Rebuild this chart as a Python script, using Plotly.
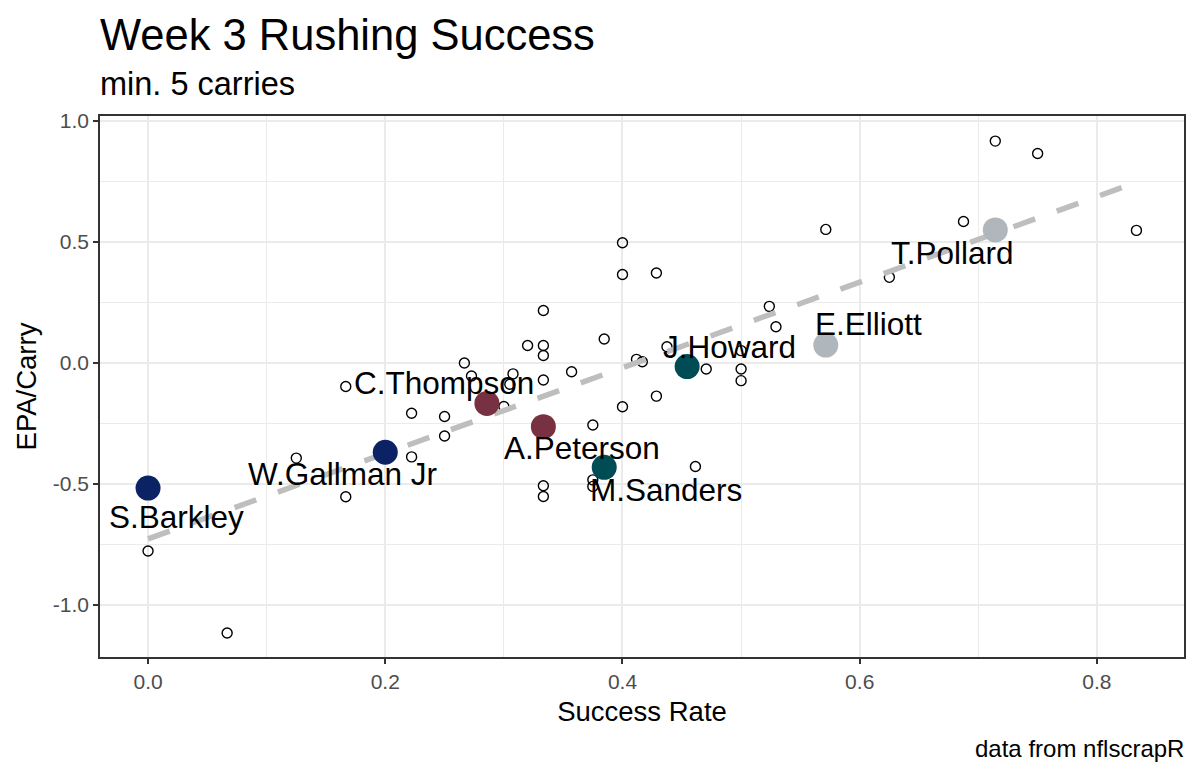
import numpy as np
import plotly.graph_objects as go

# ---- data ----
other_success = [0.0, 0.0667, 0.125, 0.1667, 0.1667, 0.2222, 0.2222, 0.25, 0.25, 0.2667,
                 0.2727, 0.30, 0.3077, 0.305, 0.32, 0.3333, 0.3333, 0.3333, 0.3333, 0.3333,
                 0.3333, 0.3571, 0.375, 0.375, 0.375, 0.3846, 0.40, 0.40, 0.40, 0.4118,
                 0.4167, 0.4286, 0.4286, 0.4375, 0.4615, 0.4706, 0.50, 0.50, 0.50, 0.5238,
                 0.5294, 0.5714, 0.625, 0.6875, 0.7143, 0.75, 0.8333]
other_epa = [-0.777, -1.116, -0.393, -0.097, -0.553, -0.208, -0.388, -0.221, -0.302, 0.0,
             -0.054, -0.18, -0.045, -0.088, 0.072, 0.217, 0.072, 0.031, -0.070, -0.507,
             -0.552, -0.036, -0.256, -0.483, -0.51, 0.099, 0.497, 0.366, -0.181, 0.015,
             0.005, 0.372, -0.137, 0.067, -0.428, -0.025, 0.051, -0.025, -0.073, 0.234,
             0.150, 0.552, 0.354, 0.585, 0.917, 0.866, 0.548]

hl_names = ["S.Barkley", "W.Gallman Jr", "C.Thompson", "A.Peterson",
            "M.Sanders", "J.Howard", "E.Elliott", "T.Pollard"]
hl_success = [0.0, 0.2, 0.2857, 0.3333, 0.3846, 0.4545, 0.5714, 0.7143]
hl_epa = [-0.517, -0.369, -0.167, -0.263, -0.431, -0.015, 0.074, 0.55]
hl_colors = ["#0B2265", "#0B2265", "#773141", "#773141",
             "#004C54", "#004C54", "#B0B7BC", "#B0B7BC"]

x_ticks = [0.0, 0.2, 0.4, 0.6, 0.8]
x_tick_labels = ["0.0", "0.2", "0.4", "0.6", "0.8"]
y_ticks = [-1.0, -0.5, 0.0, 0.5, 1.0]
y_tick_labels = ["-1.0", "-0.5", "0.0", "0.5", "1.0"]

# label offsets in pixels (layout, not data)
label_shift = [(28, -29), (-43, -22), (-43, 20), (39, -21),
               (62, -23), (42, 20), (43, 21), (-43, -23)]

# ---- linear fit over all players ----
all_x = np.array(other_success + hl_success)
all_y = np.array(other_epa + hl_epa)
slope, intercept = np.polyfit(all_x, all_y, 1)
fit_x = np.array([all_x.min(), all_x.max()])
fit_y = intercept + slope * fit_x

FONT = "Liberation Sans, Arial, Helvetica, sans-serif"

fig = go.Figure()
fig.add_trace(go.Scatter(
    x=other_success, y=other_epa, mode="markers",
    marker=dict(symbol="circle-open", size=10, color="black", line=dict(width=1.4)),
    showlegend=False, hoverinfo="x+y"))
fig.add_trace(go.Scatter(
    x=fit_x, y=fit_y, mode="lines",
    line=dict(color="#BEBEBE", width=5.5, dash="23px,23px"),
    showlegend=False, hoverinfo="skip"))
fig.add_trace(go.Scatter(
    x=hl_success, y=hl_epa, mode="markers", text=hl_names,
    marker=dict(size=25, color=hl_colors, line=dict(width=0)),
    showlegend=False, hoverinfo="text+x+y"))

for name, xv, yv, (dx, dy) in zip(hl_names, hl_success, hl_epa, label_shift):
    fig.add_annotation(x=xv, y=yv, text=name, showarrow=False,
                       xshift=dx, yshift=dy, xanchor="center", yanchor="middle",
                       font=dict(family=FONT, size=31.5, color="black"))

fig.add_annotation(xref="paper", yref="paper", x=0, y=1.150, xanchor="left", yanchor="middle",
                   xshift=-2, text="Week 3 Rushing Success", showarrow=False,
                   font=dict(family=FONT, size=43.5, color="black"))
fig.add_annotation(xref="paper", yref="paper", x=0, y=1.060, xanchor="left", yanchor="middle",
                   xshift=-2, text="min. 5 carries", showarrow=False,
                   font=dict(family=FONT, size=32.5, color="black"))
fig.add_annotation(xref="paper", yref="paper", x=1, y=-0.170, xanchor="right", yanchor="middle",
                   xshift=2, text="data from nflscrapR", showarrow=False,
                   font=dict(family=FONT, size=24, color="black"))

axis_common = dict(
    showgrid=True, gridcolor="#EBEBEB", gridwidth=2, automargin=False,
    zeroline=False, showline=True, linecolor="#333333", linewidth=1.5, mirror=True,
    ticks="outside", ticklen=5, tickwidth=1.5, tickcolor="#333333",
    tickfont=dict(family=FONT, size=21, color="#4D4D4D"),
)

fig.update_xaxes(
    range=[-0.0405, 0.8734], tickvals=x_ticks, ticktext=x_tick_labels,
    minor=dict(dtick=0.1, tick0=0.1, showgrid=True, gridcolor="#EBEBEB", gridwidth=1, ticks=""),
    title=dict(text="Success Rate", font=dict(family=FONT, size=27.5, color="black"), standoff=10),
    **axis_common)
fig.update_yaxes(
    range=[-1.215, 1.0207], tickvals=y_ticks, ticktext=y_tick_labels,
    minor=dict(dtick=0.25, tick0=0.25, showgrid=True, gridcolor="#EBEBEB", gridwidth=1, ticks=""),
    title=dict(text="EPA/Carry", font=dict(family=FONT, size=27.5, color="black"), standoff=8),
    **axis_common)

# page body has an 8px margin, so the figure is sized/offset to compensate
fig.update_layout(
    width=1192, height=770,
    margin=dict(l=92, r=16, t=108, b=121),
    paper_bgcolor="white", plot_bgcolor="white",
    font=dict(family=FONT),
)

fig.write_html("out.html")
